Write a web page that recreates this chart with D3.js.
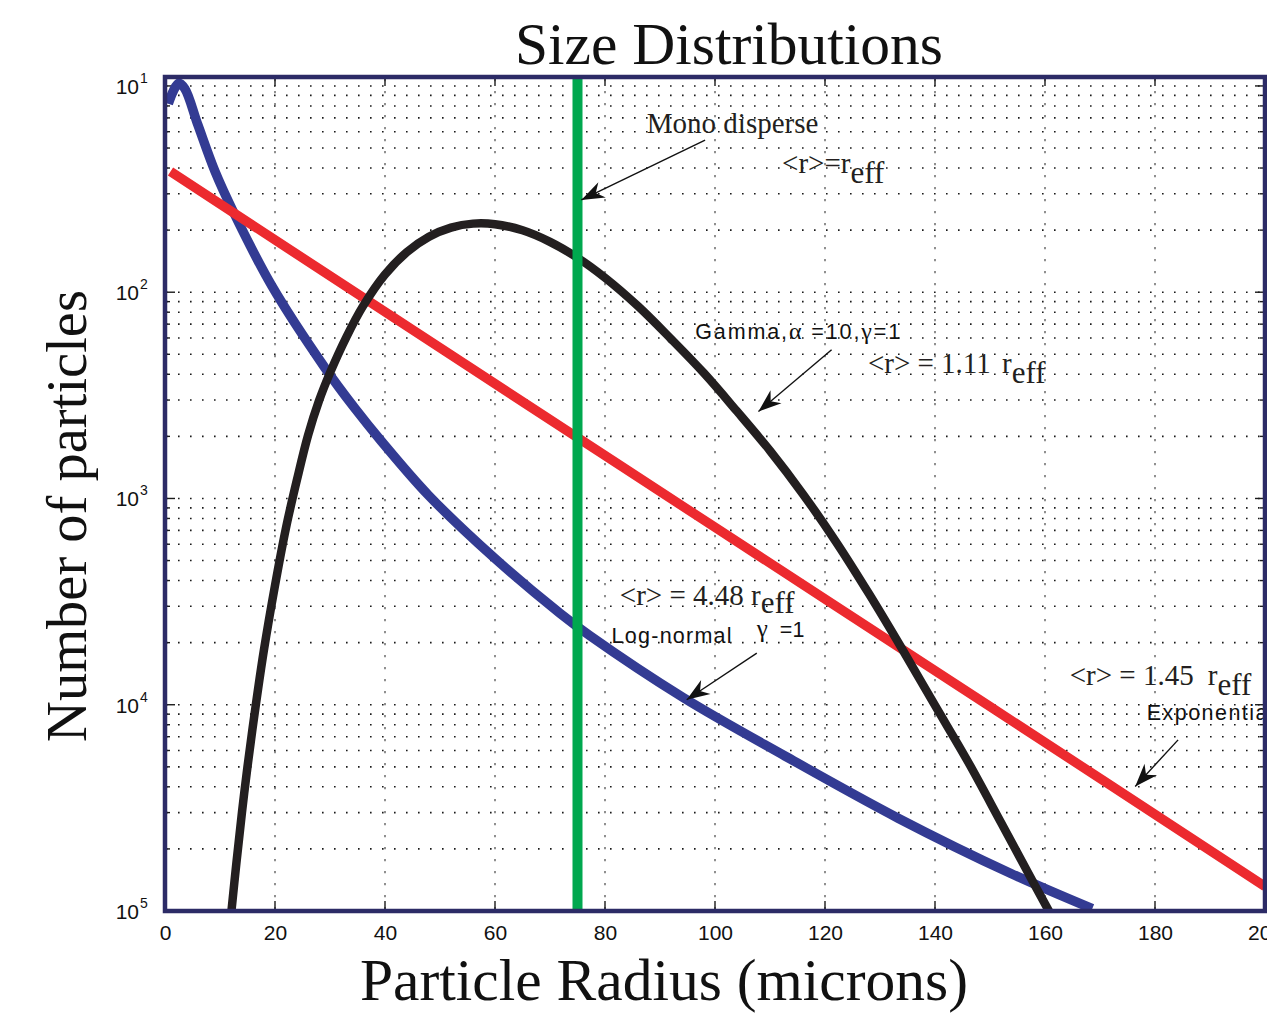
<!DOCTYPE html>
<html>
<head>
<meta charset="utf-8">
<title>Size Distributions</title>
<script src="https://cdn.jsdelivr.net/npm/d3@7"></script>
<style>
  body { margin: 0; background: #ffffff; }
  svg { display: block; }
  .serif { font-family: "Liberation Serif", "Times New Roman", Times, serif; }
  .sans { font-family: "Liberation Sans", Arial, Helvetica, sans-serif; }
</style>
</head>
<body>
<svg id="chart" width="1267" height="1013"></svg>
<script>
// ---- data: particle radius (microns) and number of particles ----
const logNormalRadius = [0.6, 1.5, 2.5, 3.6, 6.0, 9.1, 12.4, 19.4, 29.1, 34.5, 39.4, 47.9, 60.0, 71.8, 77.3, 94.2, 112.8, 133.3, 153.8, 168.6];
const logNormalCount  = [12.2, 10.6, 9.7, 10.3, 15.5, 26.0, 40.6, 93, 233, 365, 530, 964, 1956, 3600, 4640, 9230, 17770, 35480, 65800, 97500];

const gammaRadius = [11.5, 12, 13, 14, 15, 16.5, 18, 20, 22, 24, 26, 28, 30, 33, 36, 40, 44, 48, 52, 56, 60, 65, 70, 75, 80, 86, 92, 98, 104, 110, 116, 122, 128, 134, 140, 146, 152, 158, 163];
const gammaCount  = [146600, 105000, 57900, 33100, 19950, 10070, 5400, 2640, 1387, 810, 495, 336, 246, 164.5, 116.8, 82.0, 63.8, 53.8, 48.6, 46.5, 46.8, 50.1, 57.0, 68.1, 85.1, 116.9, 168.4, 247, 378, 587, 953, 1622, 2900, 5355, 10080, 18900, 37240, 73800, 129000];

const expRadius = [1, 50, 100, 150, 200];
const expCount  = [26, 186, 1380, 10200, 76000];

const monoRadius = 75;

// ---- axis ticks ----
const xTickValues = [0, 20, 40, 60, 80, 100, 120, 140, 160, 180, 200];
const yDecadeExponents = [1, 2, 3, 4, 5];
const minorDivisors = [2, 3, 4, 5, 6, 7, 8, 9];

// ---- text ----
const titleText = "Size Distributions";
const xLabelText = "Particle Radius (microns)";
const yLabelText = "Number of particles";

// annotation placement (in data units: radius, count)
const annotations = [
  { lines: [
      { kind: "serif", text: "Mono disperse", r: 87.6, n: 16.9 },
      { kind: "serif", text: "<r>=r", sub: "eff", r: 112.2, n: 26.4 }
    ],
    arrow: { from: [98.2, 18.3], to: [75.7, 35.7] } },
  { lines: [
      { kind: "gamma", r: 96.4, n: 168, width: 205 },
      { kind: "serif", text: "<r> = 1.11", r: 127.8, n: 246 },
      { kind: "serif", text: "r", sub: "eff", r: 152.2, n: 246 }
    ],
    arrow: { from: [121.2, 190], to: [107.9, 379] } },
  { lines: [
      { kind: "serif", text: "<r> = 4.48 r", sub: "eff", subShift: 8, r: 82.7, n: 3280 },
      { kind: "sans", text: "Log-normal", r: 81.2, n: 5010, width: 120 },
      { kind: "gammaOne", r: 107.6, n: 4690 }
    ],
    arrow: { from: [107.6, 5620], to: [94.85, 9460] } },
  { lines: [
      { kind: "serif", text: "<r> = 1.45", r: 164.5, n: 8010 },
      { kind: "serif", text: "r", sub: "eff", r: 189.6, n: 8010 },
      { kind: "sans", text: "Exponential", r: 178.5, n: 11830, width: 127 }
    ],
    arrow: { from: [184.2, 14800], to: [176.4, 24900] } }
];

// ---- layout ----
const plot = { left: 165, right: 1265, top: 77, bottom: 911 };

const x = d3.scaleLinear().domain([0, 200]).range([plot.left, plot.right]);
const y = d3.scaleLog().domain([9.05, 1e5]).range([plot.top, plot.bottom]);

const svg = d3.select("#chart");
const defs = svg.append("defs");

defs.append("clipPath").attr("id", "plot-clip")
  .append("rect")
  .attr("x", plot.left).attr("y", plot.top)
  .attr("width", plot.right - plot.left).attr("height", plot.bottom - plot.top);

defs.append("marker")
  .attr("id", "arrowhead")
  .attr("viewBox", "-24 -10 26 20")
  .attr("refX", 0).attr("refY", 0)
  .attr("markerWidth", 26).attr("markerHeight", 20)
  .attr("markerUnits", "userSpaceOnUse")
  .attr("orient", "auto")
  .append("path")
  .attr("d", "M0,0 L-23,-8.5 L-16,0 L-23,8.5 Z")
  .attr("fill", "#111");

// ---- grid ----
const majorY = yDecadeExponents.map(e => Math.pow(10, e));
const minorY = [];
yDecadeExponents.slice(0, -1).forEach(e => {
  minorDivisors.forEach(k => minorY.push(Math.pow(10, e + 1) / k));
});

const grid = svg.append("g").attr("class", "grid");

grid.selectAll("line.row")
  .data(majorY.slice(0, -1).concat(minorY))
  .join("line")
  .attr("class", "row")
  .attr("x1", plot.left + 1).attr("x2", plot.right - 1)
  .attr("y1", d => y(d)).attr("y2", d => y(d))
  .attr("stroke", "#1a1a1a")
  .attr("stroke-width", 1.6)
  .attr("stroke-dasharray", "1.6,10.4");

grid.selectAll("line.col")
  .data(xTickValues.slice(1, -1))
  .join("line")
  .attr("class", "col")
  .attr("x1", d => x(d)).attr("x2", d => x(d))
  .attr("y1", plot.top + 2).attr("y2", plot.bottom)
  .attr("stroke", "#555")
  .attr("stroke-width", 1.3)
  .attr("stroke-dasharray", "2.2,9.8");

// ---- tick marks (inside the box, all four sides) ----
const ticks = svg.append("g").attr("stroke", "#1a1a1a").attr("stroke-width", 1.4);

ticks.selectAll("line.xb").data(xTickValues).join("line")
  .attr("x1", d => x(d)).attr("x2", d => x(d))
  .attr("y1", plot.bottom).attr("y2", plot.bottom - 10);
ticks.selectAll("line.xt").data(xTickValues).join("line")
  .attr("x1", d => x(d)).attr("x2", d => x(d))
  .attr("y1", plot.top).attr("y2", plot.top + 9);

const yTickSet = majorY.map(v => ({ v, len: 10 })).concat(minorY.map(v => ({ v, len: 5 })));
ticks.selectAll("line.yl").data(yTickSet).join("line")
  .attr("x1", plot.left).attr("x2", d => plot.left + d.len)
  .attr("y1", d => y(d.v)).attr("y2", d => y(d.v));
ticks.selectAll("line.yr").data(yTickSet).join("line")
  .attr("x1", plot.right).attr("x2", d => plot.right - d.len)
  .attr("y1", d => y(d.v)).attr("y2", d => y(d.v));

// ---- curves ----
const line = d3.line()
  .x(d => x(d[0]))
  .y(d => y(d[1]))
  .curve(d3.curveCatmullRom.alpha(0.5));

const curves = svg.append("g").attr("clip-path", "url(#plot-clip)").attr("fill", "none");

curves.append("path")
  .datum(d3.zip(logNormalRadius, logNormalCount))
  .attr("d", line)
  .attr("stroke", "#333b93")
  .attr("stroke-width", 9.5);

curves.append("path")
  .datum(d3.zip(expRadius, expCount))
  .attr("d", line)
  .attr("stroke", "#ec2a2f")
  .attr("stroke-width", 9.5);

curves.append("path")
  .datum(d3.zip(gammaRadius, gammaCount))
  .attr("d", line)
  .attr("stroke", "#231f20")
  .attr("stroke-width", 8.5);

curves.append("line")
  .attr("x1", x(monoRadius)).attr("x2", x(monoRadius))
  .attr("y1", y(y.domain()[0])).attr("y2", y(y.domain()[1]))
  .attr("stroke", "#00a84f")
  .attr("stroke-width", 10);

// ---- annotations ----
const notes = svg.append("g");
annotations.forEach(a => {
  a.lines.forEach(l => {
    const t = notes.append("text")
      .attr("x", x(l.r)).attr("y", y(l.n))
      .attr("fill", "#231f20");
    if (l.kind === "serif") {
      t.attr("class", "serif").attr("font-size", 29).text(l.text);
      if (l.sub) {
        t.append("tspan").attr("dy", l.subShift || 10).attr("font-size", 31).text(l.sub);
      }
    } else if (l.kind === "sans") {
      t.attr("class", "sans").attr("font-size", 21.5).attr("fill", "#111").text(l.text);
    } else if (l.kind === "gamma") {
      t.attr("class", "sans").attr("font-size", 21.5).attr("fill", "#111");
      t.append("tspan").text("Gamma,");
      t.append("tspan").attr("class", "serif").attr("font-size", 24).text("α");
      t.append("tspan").text(" =10,");
      t.append("tspan").attr("class", "serif").attr("font-size", 24).text("γ");
      t.append("tspan").text("=1");
    } else if (l.kind === "gammaOne") {
      t.attr("class", "sans").attr("font-size", 21.5).attr("fill", "#111");
      t.append("tspan").attr("class", "serif").attr("font-size", 25).text("γ");
      t.append("tspan").attr("dx", 12).text("=1");
    }
    if (l.width) t.attr("textLength", l.width).attr("lengthAdjust", "spacing");
  });
  notes.append("line")
    .attr("x1", x(a.arrow.from[0])).attr("y1", y(a.arrow.from[1]))
    .attr("x2", x(a.arrow.to[0])).attr("y2", y(a.arrow.to[1]))
    .attr("stroke", "#111")
    .attr("stroke-width", 1.4)
    .attr("marker-end", "url(#arrowhead)");
});

// ---- frame ----
svg.append("rect")
  .attr("x", plot.left).attr("y", plot.top)
  .attr("width", plot.right - plot.left).attr("height", plot.bottom - plot.top)
  .attr("fill", "none")
  .attr("stroke", "#2c2b66")
  .attr("stroke-width", 4.5);

// ---- tick labels ----
const xAxis = d3.axisBottom(x).tickValues(xTickValues).tickSize(0).tickPadding(14).tickFormat(d3.format("d"));
const xAxisG = svg.append("g").attr("transform", `translate(0,${plot.bottom})`).call(xAxis);
xAxisG.select(".domain").remove();
xAxisG.selectAll("text")
  .attr("class", "sans")
  .attr("font-size", 21)
  .attr("fill", "#111");

const yLabels = svg.append("g").attr("class", "sans").attr("fill", "#111");
yDecadeExponents.forEach(e => {
  const py = y(Math.pow(10, e));
  yLabels.append("text")
    .attr("x", 139).attr("y", py + 8)
    .attr("text-anchor", "end")
    .attr("font-size", 21)
    .text("10");
  yLabels.append("text")
    .attr("x", 140).attr("y", py - 3)
    .attr("font-size", 14)
    .text(String(e));
});

// ---- title and axis titles ----
svg.append("text")
  .attr("class", "serif")
  .attr("x", 729).attr("y", 64)
  .attr("text-anchor", "middle")
  .attr("font-size", 59.5)
  .attr("fill", "#111")
  .text(titleText);

svg.append("text")
  .attr("class", "serif")
  .attr("x", 664).attr("y", 1000)
  .attr("text-anchor", "middle")
  .attr("font-size", 59.5)
  .attr("fill", "#111")
  .text(xLabelText);

svg.append("text")
  .attr("class", "serif")
  .attr("transform", "translate(86,516) rotate(-90)")
  .attr("text-anchor", "middle")
  .attr("font-size", 56.5)
  .attr("fill", "#111")
  .text(yLabelText);
</script>
</body>
</html>
